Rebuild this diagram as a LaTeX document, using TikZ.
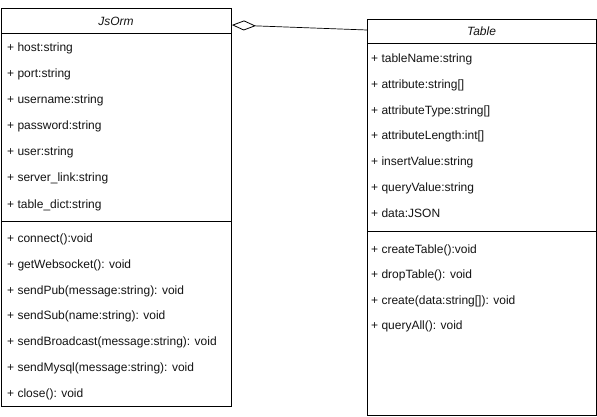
\documentclass[tikz,border=0pt]{standalone}
\usepackage{fontspec}
\setmainfont{Liberation Sans}
\usepackage{tikz}
\usetikzlibrary{positioning, arrows.meta}
\definecolor{LineColor}{RGB}{0,0,0}
\definecolor{TextColor}{RGB}{20,20,20}
\tikzstyle{classbox} = [rectangle, draw=LineColor, line width=0.9pt, fill=white, anchor=north west, inner sep=0]
\tikzstyle{headbox} = [rectangle, draw=LineColor, line width=0.9pt, anchor=north west, inner sep=0]
\tikzstyle{divider} = [line width=0.9pt, LineColor]
\tikzstyle{member} = [anchor=base west, inner sep=0, text=TextColor, font=\fontsize{12}{14}\selectfont]
\tikzstyle{classname} = [anchor=base, inner sep=0, text=TextColor, font=\fontsize{12}{14}\selectfont\itshape]
\tikzstyle{aggregation} = [line width=0.7pt, LineColor, {Diamond[open, length=24pt, width=10pt, line width=0.8pt]}-]

\begin{document}
\begin{tikzpicture}[x=1pt, y=-1pt]
            \useasboundingbox (0,0) rectangle (597,417);
            % JsOrm
            \node[classbox, minimum width=230, minimum height=398] (jsorm) at (1,8) {};
            \node[headbox, minimum width=230, minimum height=25] (jsormhead) at (1,8) {};
            \node[classname] (jsormname) at (116,25.5) {JsOrm};
            \draw[divider] (1,221) -- (231,221);
            \node[member] (host) at (7,52) {+ host:string};
            \node[member] (port) at (7,78) {+ port:string};
            \node[member] (username) at (7,104) {+ username:string};
            \node[member] (password) at (7,130) {+ password:string};
            \node[member] (user) at (7,156) {+ user:string};
            \node[member] (serverlink) at (7,182) {+ server\_link:string};
            \node[member] (tabledict) at (7,208) {+ table\_dict:string};
            \node[member] (connect) at (7,242) {+ connect():void};
            \node[member] (getwebsocket) at (7,268) {+ getWebsocket(): void};
            \node[member] (sendpub) at (7,294) {+ sendPub(message:string): void};
            \node[member] (sendsub) at (7,319) {+ sendSub(name:string): void};
            \node[member] (sendbroadcast) at (7,345) {+ sendBroadcast(message:string): void};
            \node[member] (sendmysql) at (7,371) {+ sendMysql(message:string): void};
            \node[member] (close) at (7,397) {+ close(): void};

            % Table
            \node[classbox, minimum width=229, minimum height=396] (table) at (367,19) {};
            \node[headbox, minimum width=229, minimum height=24] (tablehead) at (367,19) {};
            \node[classname] (tablename) at (481.5,35.5) {Table};
            \draw[divider] (367,231) -- (596,231);
            \node[member] (tablenameattr) at (371,63) {+ tableName:string};
            \node[member] (attribute) at (371,89) {+ attribute:string[]};
            \node[member] (attributetype) at (371,115) {+ attributeType:string[]};
            \node[member] (attributelength) at (371,140) {+ attributeLength:int[]};
            \node[member] (insertvalue) at (371,165) {+ insertValue:string};
            \node[member] (queryvalue) at (371,191) {+ queryValue:string};
            \node[member] (data) at (371,217) {+ data:JSON};
            \node[member] (createtable) at (371,253) {+ createTable():void};
            \node[member] (droptable) at (371,278) {+ dropTable(): void};
            \node[member] (create) at (371,304) {+ create(data:string[]): void};
            \node[member] (queryall) at (371,329) {+ queryAll(): void};

            % Aggregation
            \draw[aggregation] ([yshift=-17pt]jsorm.north east) -- ([yshift=-11pt]table.north west);
        \end{tikzpicture}
\end{document}
